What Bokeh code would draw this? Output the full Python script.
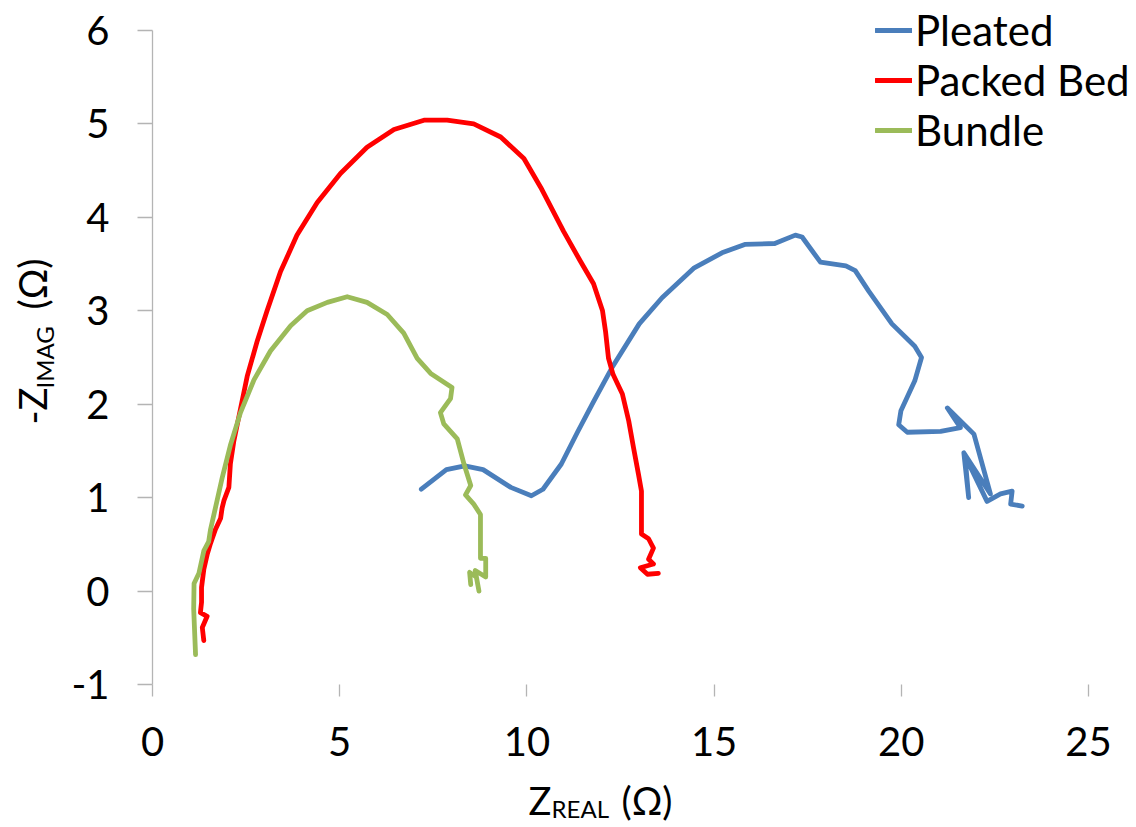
import numpy as np
from bokeh.plotting import figure
from bokeh.models import Range1d, FixedTicker, ColumnDataSource, LinearAxis
from bokeh.core.properties import value
from bokeh.embed import file_html
from bokeh.resources import INLINE

# ---------------- data ----------------
pleated_x = [7.18, 7.85, 8.34, 8.83, 9.57, 10.12, 10.43, 10.92, 11.35, 11.77, 12.27, 13.0,
             13.61, 14.47, 15.21, 15.82, 16.62, 17.17, 17.35, 17.84, 18.52, 18.77, 19.13,
             19.75, 20.36, 20.54, 20.36, 19.99, 19.93, 20.16, 21.05, 21.58, 21.23, 21.94,
             22.38, 21.67, 21.8, 21.7, 22.29, 22.65, 22.96, 22.92, 23.23]
pleated_y = [1.09, 1.30, 1.34, 1.30, 1.11, 1.02, 1.09, 1.36, 1.70, 2.02, 2.39, 2.86,
             3.14, 3.46, 3.62, 3.71, 3.72, 3.81, 3.79, 3.52, 3.48, 3.43, 3.21,
             2.86, 2.62, 2.50, 2.25, 1.93, 1.78, 1.70, 1.71, 1.75, 1.96, 1.68,
             1.04, 1.48, 1.0, 1.45, 0.96, 1.04, 1.07, 0.93, 0.91]

packed_x = [1.37, 1.33, 1.46, 1.28, 1.31, 1.31, 1.37, 1.46, 1.55, 1.68, 1.82, 1.86, 1.91,
            2.04, 2.08, 2.17, 2.35, 2.53, 2.80, 3.06, 3.42, 3.86, 4.40, 5.02, 5.73, 6.45,
            7.25, 7.87, 8.58, 9.30, 9.92, 10.37, 10.98, 11.43, 11.78, 12.02, 12.1, 12.18,
            12.3, 12.55, 12.72, 12.85, 12.98, 13.06, 13.06, 13.25, 13.38, 13.25, 13.38,
            13.03, 13.22, 13.51]
packed_y = [-0.53, -0.39, -0.27, -0.23, -0.12, 0.04, 0.23, 0.39, 0.51, 0.66, 0.78, 0.89, 0.97,
            1.11, 1.36, 1.60, 1.95, 2.30, 2.68, 3.0, 3.42, 3.81, 4.16, 4.47, 4.75, 4.94,
            5.04, 5.04, 5.0, 4.86, 4.63, 4.32, 3.85, 3.53, 3.29, 3.0, 2.78, 2.49,
            2.32, 2.11, 1.82, 1.53, 1.25, 1.07, 0.61, 0.56, 0.46, 0.34, 0.29,
            0.25, 0.18, 0.19]

bundle_x = [1.15, 1.10, 1.11, 1.24, 1.37, 1.50, 1.55, 1.68, 1.86, 2.08, 2.35, 2.71, 3.15,
            3.69, 4.13, 4.67, 5.20, 5.73, 6.27, 6.71, 7.07, 7.43, 8.0, 7.96, 7.69, 7.78,
            8.14, 8.32, 8.50, 8.36, 8.58, 8.76, 8.76, 8.9, 8.9, 8.62, 8.72, 8.65, 8.47, 8.5]
bundle_y = [-0.68, -0.19, 0.08, 0.19, 0.43, 0.53, 0.66, 0.89, 1.21, 1.56, 1.91, 2.26, 2.57,
            2.84, 3.0, 3.09, 3.15, 3.09, 2.96, 2.76, 2.49, 2.33, 2.18, 2.06, 1.91, 1.79,
            1.63, 1.36, 1.13, 1.03, 0.93, 0.82, 0.35, 0.35, 0.15, 0.22, 0.0, 0.15, 0.2, 0.07]

series_names = ["Pleated", "Packed Bed", "Bundle"]
x_ticks = [0, 5, 10, 15, 20, 25]
y_ticks = [-1, 0, 1, 2, 3, 4, 5, 6]
x_title = ("Z", "REAL", "(\u03a9)")
y_title = ("-Z", "IMAG", "(\u03a9)")

# ---------------- layout / styling ----------------
FONT = "Lato"
COLORS = ["#4a7ebb", "#ff0000", "#9bbb59"]
AXIS_GRAY = "#b4b4b4"

W, H = 1136, 827
PLOT_LEFT, PLOT_RIGHT = 152, 1088   # canvas px of the first / last x tick
PLOT_TOP, PLOT_BOTTOM = 30, 684     # canvas px of the last / first y tick

ppx = (PLOT_RIGHT - PLOT_LEFT) / (x_ticks[-1] - x_ticks[0])
ppy = (PLOT_BOTTOM - PLOT_TOP) / (y_ticks[-1] - y_ticks[0])
# the frame covers the whole canvas; the axes sit at fixed data locations
x0 = x_ticks[0] - PLOT_LEFT / ppx
x1 = x_ticks[-1] + (W - PLOT_RIGHT) / ppx
y0 = y_ticks[0] - (H - PLOT_BOTTOM) / ppy
y1 = y_ticks[-1] + PLOT_TOP / ppy

def dx(cx):
    return x0 + cx / ppx

def dy(cy):
    return y1 - cy / ppy

p = figure(width=W, height=H, output_backend="svg", toolbar_location=None,
           x_range=Range1d(x0, x1), y_range=Range1d(y0, y1),
           x_axis_type=None, y_axis_type=None, min_border=0)
p.outline_line_color = None
p.xgrid.visible = False
p.ygrid.visible = False

xax = LinearAxis(fixed_location=y_ticks[0], ticker=FixedTicker(ticks=x_ticks),
                 bounds=(x_ticks[0], x_ticks[-1]))
yax = LinearAxis(fixed_location=x_ticks[0], ticker=FixedTicker(ticks=y_ticks),
                 bounds=(y_ticks[0], y_ticks[-1]))
for ax in (xax, yax):
    ax.major_label_text_font = FONT
    ax.major_label_text_font_size = "40px"
    ax.major_label_text_color = "black"
    ax.minor_tick_line_color = None
    ax.major_tick_in = 0
    ax.major_tick_line_color = AXIS_GRAY
    ax.major_tick_line_width = 1.3
    ax.axis_line_color = AXIS_GRAY
    ax.axis_line_width = 1.3
xax.axis_line_color = None
xax.major_tick_out = 12
yax.major_tick_out = 15
xax.major_label_standoff = 30
yax.major_label_standoff = 28
yax.major_label_overrides = {t: str(t) for t in y_ticks}
p.add_layout(xax, "below")
p.add_layout(yax, "left")

for xs, ys, name, c in zip([pleated_x, packed_x, bundle_x], [pleated_y, packed_y, bundle_y],
                           series_names, COLORS):
    p.line(xs, ys, line_color=c, line_width=4.8, line_join="round", line_cap="round",
           legend_label=name)

lg = p.legend[0]
lg.location = (875, H - 155)
lg.border_line_color = None
lg.background_fill_alpha = 0
lg.padding = 0
lg.margin = 0
lg.spacing = 0
lg.glyph_width = 37
lg.glyph_height = 30
lg.label_standoff = 3
lg.label_text_font = FONT
lg.label_text_font_size = "42px"
lg.label_text_color = "black"

# ---------------- axis titles with subscripts ----------------
# (anchor positions compensate for the renderer's baseline offset)
src_x = ColumnDataSource(dict(x=[dx(528), dx(551), dx(621)],
                              y=[dy(799), dy(808), dy(799)],
                              t=list(x_title), s=["38px", "24px", "38px"]))
p.text(x="x", y="y", text="t", source=src_x, text_font=value(FONT), text_font_size="s",
       text_color="black", text_baseline="alphabetic", text_align="left")

src_y = ColumnDataSource(dict(x=[dx(31), dx(44), dx(31)],
                              y=[dy(424), dy(388), dy(309)],
                              t=list(y_title), s=["38px", "24px", "38px"]))
p.text(x="x", y="y", text="t", source=src_y, text_font=value(FONT), text_font_size="s",
       text_color="black", text_baseline="alphabetic", text_align="left", angle=np.pi / 2)

open("out.html", "w").write(file_html(p, INLINE))
